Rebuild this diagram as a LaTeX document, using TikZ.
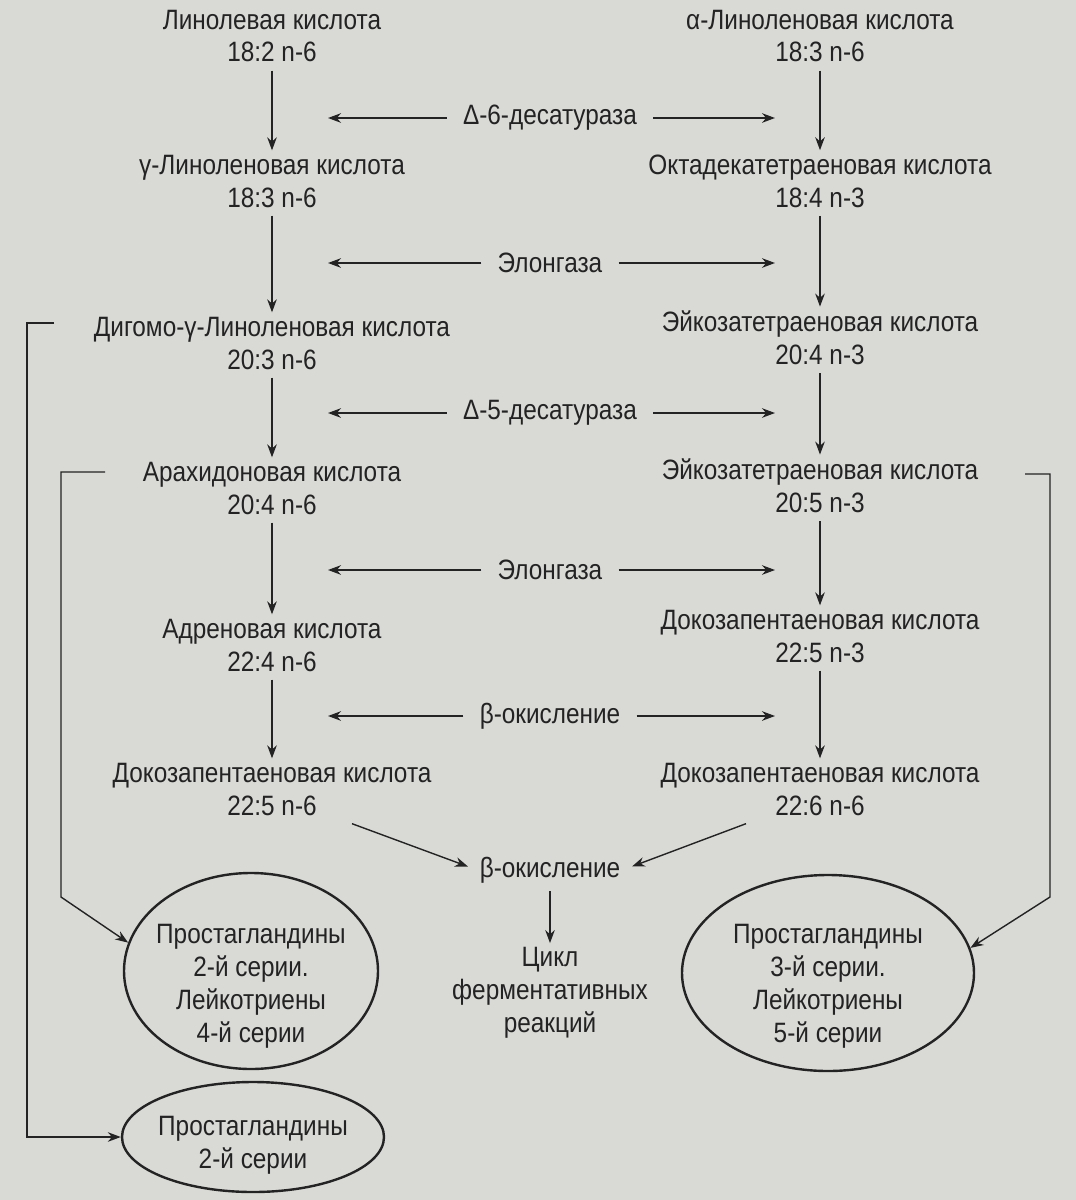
\documentclass[tikz,border=0pt]{standalone}
\usepackage{fontspec}
\setmainfont{Liberation Sans}[FakeStretch=0.87]
\usetikzlibrary{shapes.geometric,arrows.meta,calc}
\definecolor{paper}{RGB}{217,217,214}
\definecolor{ink}{RGB}{35,35,35}
\begin{document}
\begin{tikzpicture}[x=0.5pt,y=-0.5pt,
  font=\fontsize{14}{16.5}\selectfont,
  acid/.style={text=ink, align=center, inner sep=1pt},
  lab/.style={text=ink, align=center, inner sep=1pt},
  arr/.style={draw=ink, line width=0.7pt, -{Stealth[length=6.5pt,width=4.8pt]}},
  vline/.style={arr, shorten <=3pt, shorten >=1pt},
  ell/.style={ellipse, draw=ink, line width=1.2pt, inner sep=0pt}]
\fill[paper] (0,0) rectangle (1076,1200);
\useasboundingbox (0,0) rectangle (1076,1200);
% left column
\node[acid] (l1) at (272,36)  {Линолевая кислота\\18:2 n-6};
\node[acid] (l2) at (272,181) {γ-Линоленовая кислота\\18:3 n-6};
\node[acid] (l3) at (272,343) {Дигомо-γ-Линоленовая кислота\\20:3 n-6};
\node[acid] (l4) at (272,488) {Арахидоновая кислота\\20:4 n-6};
\node[acid] (l5) at (272,645) {Адреновая кислота\\22:4 n-6};
\node[acid] (l6) at (272,789) {Докозапентаеновая кислота\\22:5 n-6};
% right column
\node[acid] (r1) at (820,36)  {α-Линоленовая кислота\\18:3 n-6};
\node[acid] (r2) at (820,181) {Октадекатетраеновая кислота\\18:4 n-3};
\node[acid] (r3) at (820,338) {Эйкозатетраеновая кислота\\20:4 n-3};
\node[acid] (r4) at (820,486) {Эйкозатетраеновая кислота\\20:5 n-3};
\node[acid] (r5) at (820,636) {Докозапентаеновая кислота\\22:5 n-3};
\node[acid] (r6) at (820,789) {Докозапентаеновая кислота\\22:6 n-6};
% middle labels
\node[lab] (m1) at (550,118) {Δ-6-десатураза};
\node[lab] (m2) at (550,263) {Элонгаза};
\node[lab] (m3) at (550,413) {Δ-5-десатураза};
\node[lab] (m4) at (550,570) {Элонгаза};
\node[lab] (m5) at (550,716) {β-окисление};
\node[lab] (m6) at (550,870) {β-окисление};
\node[lab] (m7) at (550,993) {Цикл\\ферментативных\\реакций};
% vertical arrows
\foreach \a/\b in {l1/l2,l2/l3,l3/l4,l4/l5,l5/l6,r1/r2,r2/r3,r3/r4,r4/r5,r5/r6}
  \draw[vline] (\a.south) -- (\b.north);
% horizontal arrows
\coordinate (Lx) at (328,0);
\coordinate (Rx) at (775,0);
\foreach \m in {m1,m2,m3,m4,m5}{
  \draw[arr, shorten <=7pt] (\m.west) -- (\m.west -| Lx);
  \draw[arr, shorten <=7pt] (\m.east) -- (\m.east -| Rx);
}
% to beta-oxidation
\draw[arr, shorten >=5pt] ([xshift=40pt,yshift=-3pt]l6.south) -- (m6.west);
\draw[arr, shorten >=5pt] ([xshift=-37pt,yshift=-3pt]r6.south) -- (m6.east);
\draw[vline] (m6.south) -- (m7.north);
% ellipses
\node[ell, minimum width=127pt, minimum height=98pt] (e1) at (251,971) {};
\node[acid] (e1t) at (251,986) {Простагландины\\2-й серии.\\Лейкотриены\\4-й серии};
\node[ell, minimum width=146pt, minimum height=98pt] (e2) at (828,973) {};
\node[acid] (e2t) at (828,986) {Простагландины\\3-й серии.\\Лейкотриены\\5-й серии};
\node[ell, minimum width=131pt, minimum height=55pt] (e3) at (253,1137) {};
\node[acid] (e3t) at (253,1145) {Простагландины\\2-й серии};
% side connectors
\coordinate (c1) at (54,323);
\coordinate (c2) at (105,472);
\coordinate (c3) at (1025,474);
\draw[arr] (c1) -- ++(-27,0) |- (e3.west);
\draw[arr] (c2) -- ++(-44,0) -- ++(0,425) -- (e1.167);
\draw[arr] (c3) -- ++(25,0) -- ++(0,423) -- (e2.10);
\end{tikzpicture}
\end{document}
